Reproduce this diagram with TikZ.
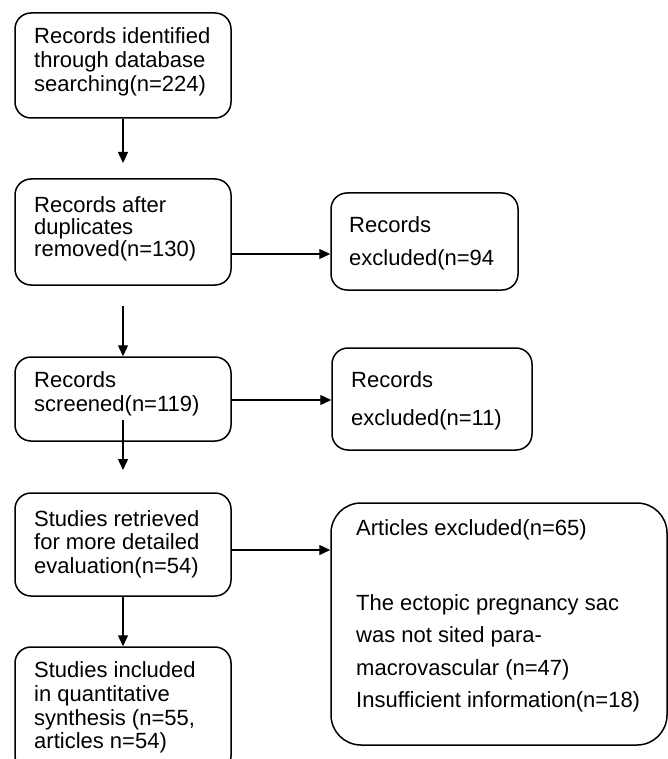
\documentclass[tikz,border=0pt]{standalone}
\usepackage{fontspec}
\setmainfont{Liberation Sans}
\usetikzlibrary{arrows.meta}
\begin{document}
\begin{tikzpicture}[x=1pt,y=-1pt,
  box/.style={draw, line width=1.5pt, rounded corners=16pt},
  bigbox/.style={draw, line width=1.5pt, rounded corners=30pt},
  txt/.style={anchor=base west, inner sep=0pt, font=\fontsize{22}{24}\selectfont},
  arr/.style={line width=1.3pt, -{Triangle[length=11pt,width=10pt]}}]
\useasboundingbox (0,0) rectangle (668,759);
% boxes
\node[box, minimum width=216pt, minimum height=105pt] (b1) at (123,65.5) {};
\node[box, minimum width=216pt, minimum height=106pt] (b2) at (123,232) {};
\node[box, minimum width=187pt, minimum height=97pt] (b3) at (424.5,241.5) {};
\node[box, minimum width=216pt, minimum height=84pt] (b4) at (123,399) {};
\node[box, minimum width=200pt, minimum height=102pt] (b5) at (432,399) {};
\node[box, minimum width=216pt, minimum height=103pt] (b6) at (123,544.5) {};
\node[box, minimum width=216pt, minimum height=125pt] (b7) at (123,709.5) {};
\node[bigbox, minimum width=336pt, minimum height=242pt] (b8) at (499,624) {};
% texts
\node[txt] (t1a) at (34,44) {Records identified};
\node[txt] (t1b) at (34,68) {through database};
\node[txt] (t1c) at (34,92) {searching(n=224)};
\node[txt] (t2a) at (34,212) {Records after};
\node[txt] (t2b) at (34,234) {duplicates};
\node[txt] (t2c) at (34,256) {removed(n=130)};
\node[txt] (t3a) at (349,233) {Records};
\node[txt] (t3b) at (349,265) {excluded(n=94};
\node[txt] (t4a) at (34,387) {Records};
\node[txt] (t4b) at (34,411) {screened(n=119)};
\node[txt] (t5a) at (351,387) {Records};
\node[txt] (t5b) at (351,425) {excluded(n=11)};
\node[txt] (t6a) at (34,526) {Studies retrieved};
\node[txt] (t6b) at (34,549) {for more detailed};
\node[txt] (t6c) at (34,573) {evaluation(n=54)};
\node[txt] (t7a) at (34,677) {Studies included};
\node[txt] (t7b) at (34,701) {in quantitative};
\node[txt] (t7c) at (34,725) {synthesis (n=55,};
\node[txt] (t7d) at (34,748) {articles n=54)};
\node[txt] (t8a) at (356,535) {Articles excluded(n=65)};
\node[txt] (t8b) at (356,610) {The ectopic pregnancy sac};
\node[txt] (t8c) at (356,642) {was not sited para-};
\node[txt] (t8d) at (356,675) {macrovascular (n=47)};
\node[txt] (t8e) at (356,707) {Insufficient information(n=18)};
% free ends
\coordinate (e1) at (123,163);
\coordinate (s2) at (123,306);
\coordinate (s4) at (123,420);
\coordinate (e4) at (123,470);
% connectors
\draw[arr] (b1.south) -- (e1);
\draw[arr] (s2) -- (b4.north);
\draw[arr] (s4) -- (e4);
\draw[arr] (b6.south) -- (b7.north);
\draw[arr] (b2.east |- 0,254) -- (b3.west |- 0,254);
\draw[arr] (b4.east |- 0,400) -- (b5.west |- 0,400);
\draw[arr] (b6.east |- 0,550) -- (b8.west |- 0,550);
\end{tikzpicture}
\end{document}
